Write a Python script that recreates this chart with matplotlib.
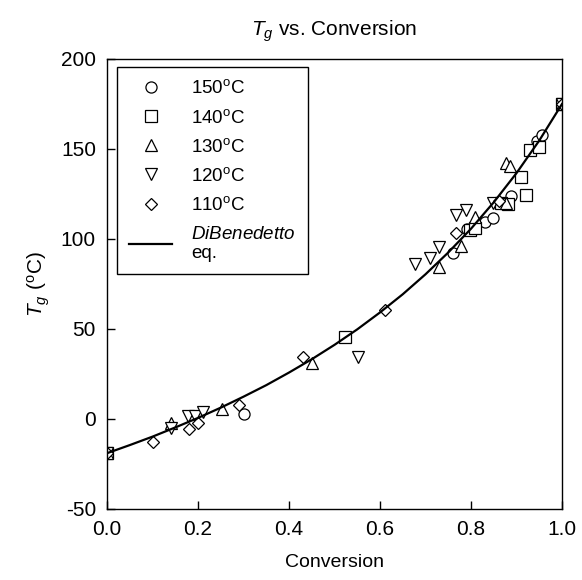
"""Tg vs. conversion with DiBenedetto fit."""

import matplotlib
matplotlib.use("Agg")
import matplotlib.pyplot as plt

plt.rcParams["font.family"] = ["Liberation Sans", "DejaVu Sans"]
plt.rcParams["mathtext.fontset"] = "custom"
plt.rcParams["mathtext.rm"] = "Liberation Sans"
plt.rcParams["mathtext.it"] = "Liberation Sans:italic"
plt.rcParams["axes.unicode_minus"] = False

# measured points, (conversion, Tg in C)
x150 = [0.0, 0.30, 0.76, 0.792, 0.831, 0.849, 0.889, 0.945, 0.956, 1.0]
y150 = [-19, 2.7, 92.4, 105.5, 109.6, 111.8, 123.9, 154.5, 158, 175]

x140 = [0.0, 0.522, 0.798, 0.809, 0.865, 0.882, 0.909, 0.92, 0.93, 0.95, 1.0]
y140 = [-19, 45.7, 105, 106, 120, 119.5, 134.6, 124.4, 149.7, 151, 175]

x130 = [0.0, 0.14, 0.252, 0.451, 0.73, 0.779, 0.809, 0.878, 0.877, 0.886, 1.0]
y130 = [-19, -2, 5.6, 31, 84.3, 96, 112.4, 120, 142.4, 140.5, 175]

x120 = [0.0, 0.14, 0.179, 0.193, 0.21, 0.552, 0.678, 0.71, 0.73, 0.768, 0.789, 0.849, 1.0]
y120 = [-19, -5, 1.5, 1.5, 4, 34.6, 86, 89.3, 95.4, 113.3, 116, 119.8, 175]

x110 = [0.0, 0.102, 0.181, 0.2, 0.291, 0.431, 0.611, 0.768, 0.862, 1.0]
y110 = [-19, -12.6, -5.5, -2, 7.8, 34.3, 60.6, 103.5, 121, 175]

# DiBenedetto curve
x_fit = [0.0, 0.05, 0.1, 0.15, 0.2, 0.25, 0.3, 0.35, 0.4, 0.45, 0.5,
         0.55, 0.6, 0.65, 0.7, 0.75, 0.8, 0.85, 0.9, 0.95, 1.0]
y_fit = [-19, -14.5, -9.8, -4.7, 0.6, 6.3, 12.4, 18.8, 25.8, 33.2, 41.2,
         49.8, 59.2, 69.3, 80.4, 92.5, 105.7, 120.4, 136.6, 154.7, 175]

series = [
    (x150, y150, "o", "150$^\\mathrm{o}$C"),
    (x140, y140, "s", "140$^\\mathrm{o}$C"),
    (x130, y130, "^", "130$^\\mathrm{o}$C"),
    (x120, y120, "v", "120$^\\mathrm{o}$C"),
    (x110, y110, "D", "110$^\\mathrm{o}$C"),
]

fig = plt.figure(figsize=(5.82, 5.80), dpi=100)
ax = fig.add_axes([107 / 582, 71 / 580, 455 / 582, 450 / 580])

for xs, ys, m, lab in series:
    ms = 6.5 if m == "D" else 8
    ax.plot(xs, ys, linestyle="none", marker=m, markersize=ms,
            markerfacecolor="white", markeredgecolor="black",
            markeredgewidth=0.9, label=lab)

ax.plot(x_fit, y_fit, color="black", linewidth=1.6,
        label="$DiBenedetto$\neq.")

ax.set_xlim(0, 1.0)
ax.set_ylim(-50, 200)
ax.set_xticks([0.0, 0.2, 0.4, 0.6, 0.8, 1.0])
ax.set_xticklabels(["0.0", "0.2", "0.4", "0.6", "0.8", "1.0"])
ax.set_yticks([-50, 0, 50, 100, 150, 200])
ax.tick_params(direction="in", length=6, width=1, labelsize=15)
ax.tick_params(axis="x", pad=8)
ax.tick_params(axis="y", pad=8)
for s in ax.spines.values():
    s.set_linewidth(1.0)

ax.set_xlabel("Conversion", fontsize=14, labelpad=11)
ax.set_ylabel("$T_g$ ($^\\mathrm{o}$C)", fontsize=15, labelpad=6)
ax.set_title("$T_g$ vs. Conversion", fontsize=15, pad=17)

leg = ax.legend(loc="upper left", bbox_to_anchor=(0.022, 0.982),
                borderaxespad=0, fontsize=13.5, frameon=True, fancybox=False,
                edgecolor="black", framealpha=1, handlelength=2.3,
                handletextpad=1.0, labelspacing=0.6, borderpad=0.65)
leg.get_frame().set_linewidth(1.0)

fig.savefig("out.png", dpi=100)
